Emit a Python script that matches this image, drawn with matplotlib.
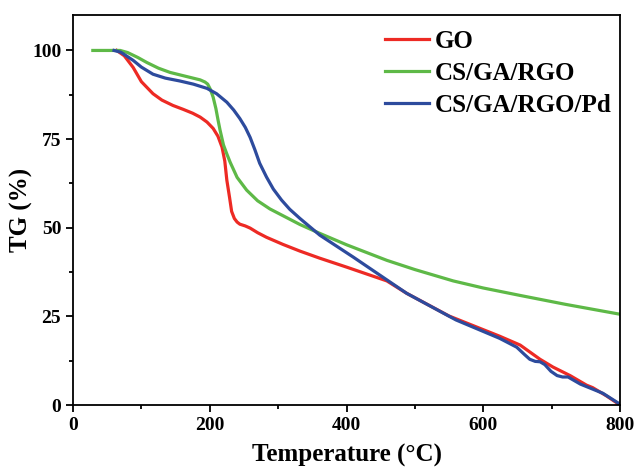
import matplotlib.pyplot as plt
from matplotlib.ticker import MultipleLocator

# TGA curves
go_temp = [64, 75, 88, 100, 117, 130, 146, 161, 175, 186, 196, 205, 212, 218,
           222, 225, 229, 232, 236, 240, 244, 252, 259, 270, 283, 307, 332,
           361, 400, 459, 488, 550, 624, 654, 683, 702, 727, 751, 760, 780,
           800]
go_tg = [100, 98.5, 95.2, 91.2, 87.8, 86.0, 84.5, 83.4, 82.3, 81.2, 79.8,
         78.0, 75.8, 72.7, 68.8, 63.4, 58.5, 54.6, 52.6, 51.6, 51.0, 50.5,
         49.9, 48.6, 47.3, 45.3, 43.4, 41.4, 38.9, 35.0, 31.5, 25.1, 19.4,
         16.9, 12.9, 10.7, 8.3, 5.6, 4.9, 2.6, 0.0]

csga_temp = [29, 50, 69, 80, 95, 108, 125, 142, 165, 186, 193, 197, 201, 205,
             209, 212, 215, 220, 225, 230, 240, 254, 270, 288, 307, 332, 361,
             400, 459, 500, 556, 600, 654, 720, 800]
csga_tg = [100, 100, 100, 99.4, 98.0, 96.6, 95.0, 93.8, 92.7, 91.7, 91.1,
           90.5, 89.0, 86.8, 83.6, 80.5, 77.6, 73.4, 70.8, 68.4, 64.2, 60.6,
           57.6, 55.3, 53.4, 50.9, 48.4, 45.2, 40.8, 38.2, 35.0, 33.0, 30.9,
           28.4, 25.6]

pd_temp = [60, 70, 88, 100, 117, 135, 156, 176, 196, 210, 225, 235, 244,
           252, 259, 266, 273, 283, 293, 305, 317, 332, 361, 410, 488, 560,
           624, 649, 660, 668, 676, 683, 690, 699, 708, 716, 724, 733, 742,
           756, 775, 797, 800]
pd_tg = [100, 99.5, 97.2, 95.3, 93.3, 92.2, 91.4, 90.5, 89.3, 87.8, 85.4,
         83.2, 80.8, 78.3, 75.5, 72.0, 68.2, 64.3, 60.9, 57.8, 55.2, 52.6,
         47.9, 41.7, 31.5, 24.0, 18.8, 16.3, 14.3, 12.9, 12.3, 12.2, 11.4,
         9.5, 8.3, 7.9, 7.9, 6.9, 5.9, 4.8, 3.3, 0.6, 0.2]

labels = ['GO', 'CS/GA/RGO', 'CS/GA/RGO/Pd']
colors = ['#ed2a24', '#5eb947', '#2d4b9d']

plt.rcParams['font.family'] = 'Liberation Serif'
plt.rcParams['font.weight'] = 'bold'

fig = plt.figure(figsize=(6.36, 4.67), dpi=100)
ax = fig.add_axes([73 / 636, 1 - 405 / 467, 547 / 636, 390 / 467])

ax.plot(go_temp, go_tg, color=colors[0], lw=2.3, label=labels[0])
ax.plot(csga_temp, csga_tg, color=colors[1], lw=2.3, label=labels[1])
ax.plot(pd_temp, pd_tg, color=colors[2], lw=2.3, label=labels[2])

ax.set_xlim(0, 800)
ax.set_ylim(0, 110)
ax.xaxis.set_major_locator(MultipleLocator(200))
ax.xaxis.set_minor_locator(MultipleLocator(100))
ax.yaxis.set_major_locator(MultipleLocator(25))
ax.yaxis.set_minor_locator(MultipleLocator(12.5))
ax.tick_params(which='both', direction='out', width=1.3, labelsize=14)
ax.tick_params(which='major', length=5)
ax.tick_params(which='minor', length=3)
for s in ax.spines.values():
    s.set_linewidth(1.3)

ax.set_xlabel('Temperature (\u00b0C)', fontsize=18, fontweight='bold', labelpad=7)
ax.set_ylabel('TG (%)', fontsize=18, fontweight='bold')
ax.yaxis.set_label_coords(-0.073, 0.5)

ax.legend(loc='upper right', frameon=False, fontsize=18, handlelength=1.75,
          handletextpad=0.25, labelspacing=0.35, borderaxespad=0.2,
          bbox_to_anchor=(1.012, 1.0))

fig.savefig('out.png', dpi=100)
